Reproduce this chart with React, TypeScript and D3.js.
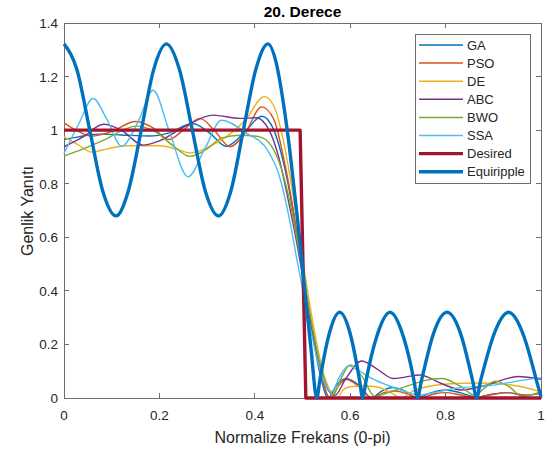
import React from 'react';
import * as d3 from 'd3';

// tick labels
const xTicks = [0, 0.2, 0.4, 0.6, 0.8, 1];
const yTicks = [0, 0.2, 0.4, 0.6, 0.8, 1, 1.2, 1.4];

const seriesNames = ['GA', 'PSO', 'DE', 'ABC', 'BWO', 'SSA', 'Desired', 'Equiripple'];
const seriesColors = ['#0072BD', '#D95319', '#EDB120', '#7E2F8E', '#77AC30', '#4DBEEE', '#A2142F', '#0072BD'];

// values (frequency, magnitude)
const gaFreq = [0, 0.03, 0.07, 0.12, 0.18, 0.22, 0.27, 0.305, 0.34, 0.375, 0.415, 0.44, 0.46, 0.48, 0.5, 0.52, 0.538, 0.554,
    0.572, 0.592, 0.62, 0.645, 0.665, 0.69, 0.715, 0.738, 0.77, 0.8, 0.83, 0.865, 0.9, 0.93, 0.97, 1];
const gaMag = [0.965, 0.975, 0.985, 0.982, 0.978, 0.99, 1.025, 0.99, 0.94, 0.985, 1.052, 1.0, 0.88, 0.7, 0.47, 0.25, 0.08, 0.0,
    0.05, 0.073, 0.045, 0.0, 0.025, 0.039, 0.025, 0.0, 0.02, 0.03, 0.02, 0.003, 0.015, 0.02, 0.01, 0.02];

const psoFreq = [0, 0.025, 0.058, 0.1, 0.15, 0.185, 0.22, 0.25, 0.285, 0.315, 0.348, 0.38, 0.414, 0.44, 0.46, 0.48, 0.5, 0.52, 0.54, 0.558,
    0.575, 0.592, 0.62, 0.645, 0.67, 0.694, 0.72, 0.745, 0.775, 0.8, 0.83, 0.86, 0.895, 0.93, 0.965, 1];
const psoMag = [1.027, 1.0, 0.978, 0.995, 1.032, 1.01, 0.965, 1.0, 1.044, 1.0, 0.938, 0.99, 1.087, 1.04, 0.9, 0.71, 0.48, 0.26, 0.08, 0.0,
    0.045, 0.069, 0.04, 0.0, 0.02, 0.026, 0.015, 0.0, 0.015, 0.02, 0.012, 0.002, 0.012, 0.02, 0.01, 0.018];

const deFreq = [0, 0.03, 0.058, 0.09, 0.13, 0.2, 0.235, 0.264, 0.3, 0.34, 0.38, 0.42, 0.44, 0.46, 0.48, 0.5, 0.52, 0.54, 0.56, 0.572,
    0.585, 0.6, 0.63, 0.66, 0.685, 0.708, 0.73, 0.77, 0.81, 0.86, 0.9, 0.95, 1];
const deMag = [0.975, 0.945, 0.918, 0.93, 0.942, 0.942, 0.93, 0.915, 0.935, 0.975, 1.037, 1.125, 1.09, 0.96, 0.76, 0.52, 0.3, 0.12, 0.02, 0.0,
    0.03, 0.042, 0.045, 0.04, 0.02, 0.0, 0.025, 0.045, 0.053, 0.056, 0.055, 0.045, 0.024];

const abcFreq = [0, 0.04, 0.083, 0.12, 0.166, 0.2, 0.25, 0.313, 0.369, 0.403, 0.43, 0.45, 0.47, 0.49, 0.51, 0.53, 0.55, 0.568,
    0.59, 0.624, 0.655, 0.69, 0.715, 0.746, 0.79, 0.833, 0.88, 0.952, 1];
const abcMag = [0.938, 0.975, 1.022, 1.0, 0.944, 0.96, 1.01, 1.056, 1.044, 1.046, 1.0, 0.9, 0.74, 0.56, 0.35, 0.16, 0.04, 0.01,
    0.07, 0.138, 0.11, 0.073, 0.078, 0.086, 0.055, 0.03, 0.045, 0.08, 0.07];

const bwoFreq = [0, 0.04, 0.08, 0.152, 0.19, 0.23, 0.264, 0.3, 0.33, 0.369, 0.41, 0.435, 0.455, 0.475, 0.495, 0.515, 0.535, 0.552, 0.564,
    0.58, 0.6, 0.625, 0.652, 0.68, 0.72, 0.755, 0.792, 0.83, 0.862, 0.88, 0.904, 0.935, 0.96, 0.98, 1];
const bwoMag = [0.903, 0.93, 0.96, 1.015, 0.995, 0.94, 0.902, 0.93, 0.97, 0.981, 0.975, 0.94, 0.86, 0.72, 0.53, 0.32, 0.14, 0.04, 0.01,
    0.07, 0.123, 0.08, 0.005, 0.02, 0.045, 0.065, 0.073, 0.045, 0.01, 0.035, 0.063, 0.04, 0.005, 0.012, 0.024];

const ssaFreq = [0, 0.03, 0.061, 0.09, 0.121, 0.155, 0.187, 0.22, 0.26, 0.295, 0.33, 0.383, 0.424, 0.452, 0.473, 0.49, 0.51, 0.53, 0.548, 0.561,
    0.578, 0.596, 0.62, 0.645, 0.687, 0.715, 0.743, 0.78, 0.82, 0.9, 0.95, 1];
const ssaMag = [0.913, 1.02, 1.118, 1.04, 0.94, 1.03, 1.149, 1.0, 0.826, 0.93, 1.037, 0.988, 0.932, 0.826, 0.664, 0.5, 0.32, 0.15, 0.05, 0.024,
    0.08, 0.12, 0.1, 0.073, 0.042, 0.025, 0.011, 0.022, 0.036, 0.048, 0.063, 0.076];

const desiredFreq = [0, 0.495, 0.507, 1];
const desiredMag = [1, 1, 0, 0];

const eqFreq = [0, 0.027, 0.054, 0.081, 0.109, 0.135, 0.162, 0.188, 0.2146, 0.242, 0.269, 0.296, 0.324, 0.35, 0.376, 0.402, 0.4276,
    0.445, 0.46, 0.475, 0.49, 0.505, 0.518, 0.53,
    0.536, 0.542, 0.554, 0.578, 0.602, 0.614, 0.62, 0.626,
    0.633, 0.64, 0.655, 0.6835, 0.712, 0.727, 0.734, 0.741,
    0.749, 0.757, 0.772, 0.803, 0.834, 0.849, 0.857, 0.865,
    0.873, 0.882, 0.899, 0.932, 0.965, 0.982, 0.991, 1];
const eqMag = [1.322, 1.226, 1.0, 0.774, 0.68, 0.774, 1.0, 1.226, 1.322, 1.226, 1.0, 0.774, 0.68, 0.774, 1.0, 1.226, 1.322,
    1.25, 1.1, 0.9, 0.66, 0.4, 0.18, 0.0,
    0.062, 0.123, 0.226, 0.32, 0.226, 0.123, 0.062, 0.0,
    0.062, 0.123, 0.226, 0.32, 0.226, 0.123, 0.062, 0.0,
    0.062, 0.123, 0.226, 0.32, 0.226, 0.123, 0.062, 0.0,
    0.062, 0.123, 0.226, 0.32, 0.226, 0.123, 0.062, 0.005];

const seriesFreq = [gaFreq, psoFreq, deFreq, abcFreq, bwoFreq, ssaFreq, desiredFreq, eqFreq];
const seriesMag = [gaMag, psoMag, deMag, abcMag, bwoMag, ssaMag, desiredMag, eqMag];

const font = '"Liberation Sans", Arial, Helvetica, sans-serif';
const textColor = '#262626';
const axisColor = '#6e6e6e';

export default function App() {
    const width = 555;
    const height = 455;
    const margin = {t: 23, b: 57, r: 14, l: 64};

    const x = d3.scaleLinear().domain([0, 1]).range([margin.l, width - margin.r]);
    const y = d3.scaleLinear().domain([0, 1.4]).range([height - margin.b, margin.t]);

    const lines = seriesNames.map((name, i) => {
        const pts: [number, number][] = seriesFreq[i].map((f, j) => [f, seriesMag[i][j]]);
        const gen = d3.line<[number, number]>()
            .x(d => x(d[0]))
            .y(d => y(d[1]))
            .curve(name === 'Desired' ? d3.curveLinear : d3.curveMonotoneX);
        const thick = name === 'Desired' || name === 'Equiripple';
        return (
            <path key={name} d={gen(pts) || ''} fill="none" stroke={seriesColors[i]}
                strokeWidth={thick ? 3.4 : 1.4} strokeLinejoin="round"/>
        );
    });

    const tl = 5;
    const x0 = x(0), x1 = x(1), y0 = y(0), y1 = y(1.4);

    const xAxis = xTicks.map(d => (
        <g key={'x' + d}>
            <line x1={x(d)} x2={x(d)} y1={y0} y2={y0 - tl} stroke={axisColor}/>
            <line x1={x(d)} x2={x(d)} y1={y1} y2={y1 + tl} stroke={axisColor}/>
            <text x={x(d)} y={y0 + 22} textAnchor="middle" fontSize="13.5" fill={textColor}>{String(d)}</text>
        </g>
    ));
    const yAxis = yTicks.map(d => (
        <g key={'y' + d}>
            <line x1={x0} x2={x0 + tl} y1={y(d)} y2={y(d)} stroke={axisColor}/>
            <line x1={x1} x2={x1 - tl} y1={y(d)} y2={y(d)} stroke={axisColor}/>
            <text x={x0 - 6} y={y(d) + 5} textAnchor="end" fontSize="13.5" fill={textColor}>{String(d)}</text>
        </g>
    ));

    // legend
    const lg = {x: 415, y: 34, w: 115, h: 149, row: 18.1, first: 45};
    const legend = seriesNames.map((name, i) => {
        const ly = lg.first + i * lg.row;
        const thick = name === 'Desired' || name === 'Equiripple';
        return (
            <g key={'lg' + name}>
                <line x1={419} x2={463} y1={ly} y2={ly} stroke={seriesColors[i]} strokeWidth={thick ? 3.4 : 1.5}/>
                <text x={467} y={ly + 4.6} fontSize="13" fill={textColor}>{name}</text>
            </g>
        );
    });

    return (
        <svg width={width} height={height} style={{position: 'absolute', left: 0, top: 0, background: '#fff'}}
            fontFamily={font}>
            <rect x={0} y={0} width={width} height={height} fill="#fff"/>
            <g shapeRendering="crispEdges">
                <rect x={x0} y={y1} width={x1 - x0} height={y0 - y1} fill="#fff" stroke={axisColor}/>
                {xAxis}
                {yAxis}
            </g>
            <g>{lines}</g>
            <text x={(x0 + x1) / 2} y={17} textAnchor="middle" fontSize="15.5" fontWeight="bold" fill="#000">20. Derece</text>
            <text x={(x0 + x1) / 2} y={443} textAnchor="middle" fontSize="16" fill={textColor}>Normalize Frekans (0-pi)</text>
            <text transform="translate(33,211) rotate(-90)" textAnchor="middle" fontSize="16" fill={textColor}>Genlik Yanıtı</text>
            <rect x={lg.x} y={lg.y} width={lg.w} height={lg.h} fill="#fff" stroke={axisColor} shapeRendering="crispEdges"/>
            {legend}
        </svg>
    );
}
